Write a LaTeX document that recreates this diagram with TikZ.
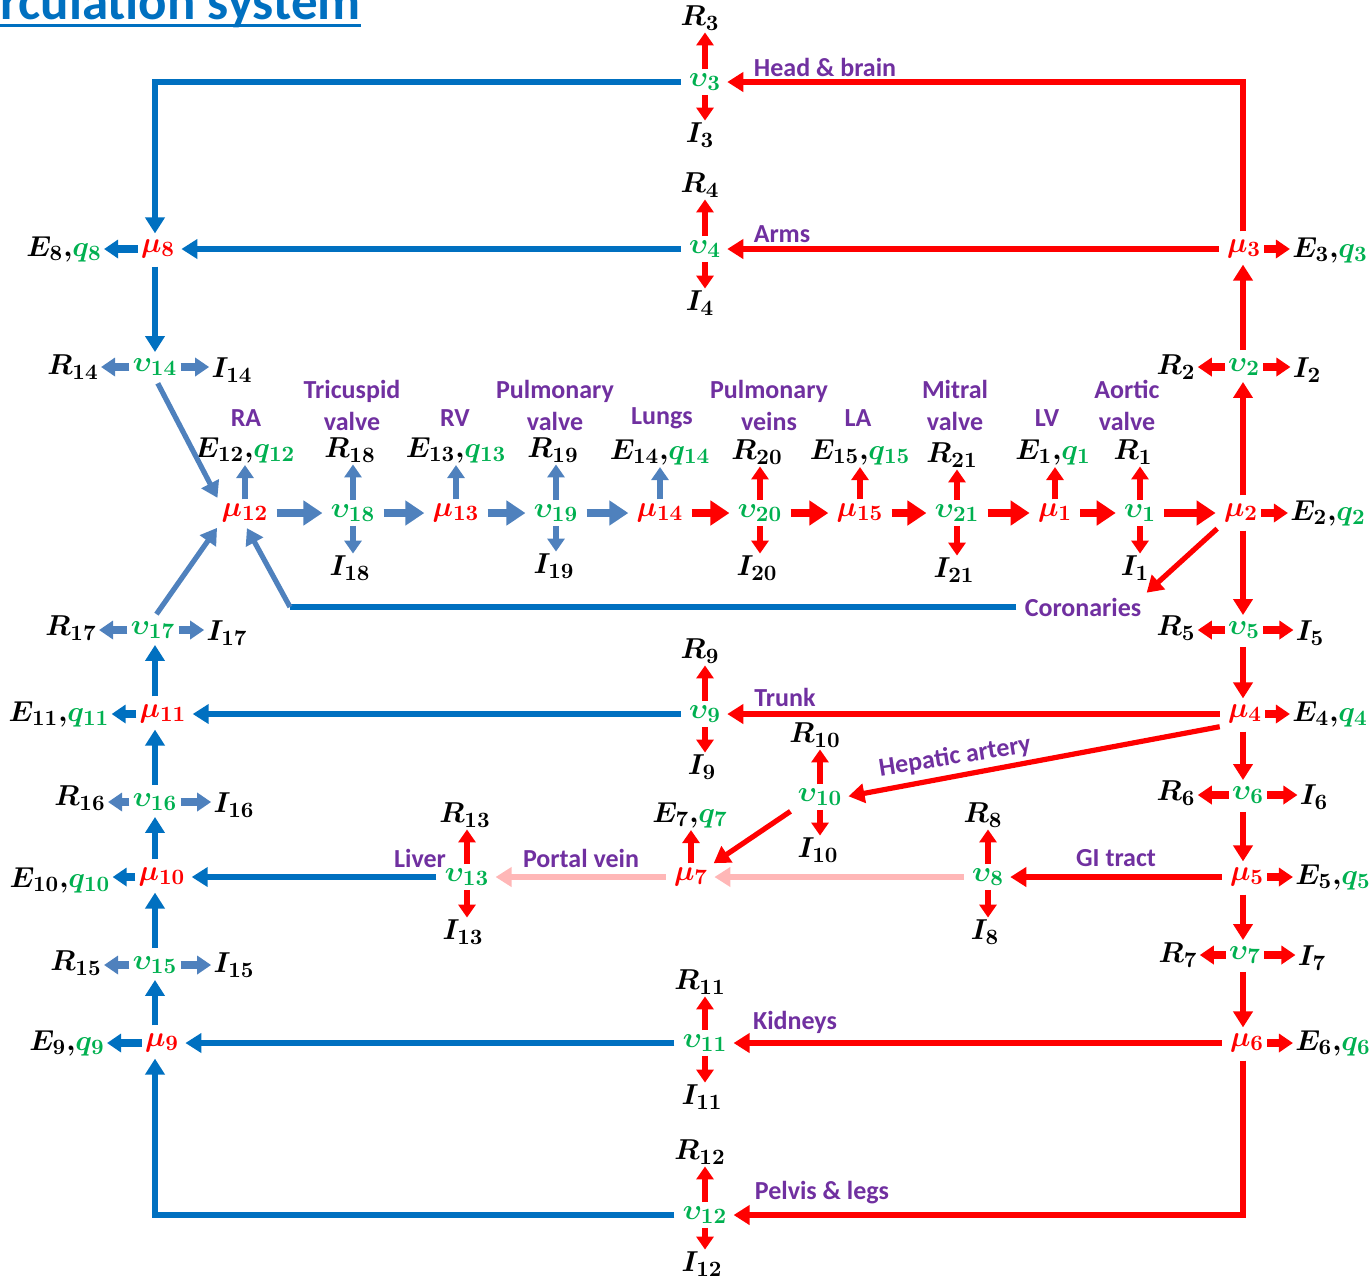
\documentclass[tikz,border=0pt]{standalone}
\usepackage{fontspec}
\setmainfont{Carlito}
\usetikzlibrary{arrows.meta}
\DeclareMathSizes{13.5}{13.5}{10.5}{8}
\definecolor{artRed}{HTML}{FF0000}
\definecolor{venBlue}{HTML}{0070C0}
\definecolor{heartBlue}{HTML}{4F81BD}
\definecolor{portalPink}{HTML}{FFB7B7}
\definecolor{lblPurple}{HTML}{7030A0}
\definecolor{qGreen}{HTML}{00B050}
\newcommand{\Eq}[1]{$E_{#1}{,}{\color{qGreen}q_{#1}}$}

\begin{document}
\begin{tikzpicture}[x=0.5pt, y=-0.5pt,
  var/.style={inner sep=1pt, font=\fontsize{13.5}{15}\selectfont\boldmath},
  pres/.style={var, text=artRed},
  vol/.style={var, text=qGreen},
  par/.style={var, text=black},
  lbl/.style={inner sep=1pt, text=lblPurple, align=center,
    font=\fontsize{13}{16}\selectfont\bfseries},
  flowR/.style={-{Triangle[length=8pt,width=9.5pt]}, artRed, line width=2.6pt,
    shorten <=3pt, shorten >=2pt},
  flowB/.style={flowR, venBlue},
  flowS/.style={flowR, heartBlue},
  flowP/.style={flowR, portalPink},
  lineB/.style={venBlue, line width=2.6pt, shorten <=3pt},
  bigR/.style={-{Triangle[length=9.5pt,width=12pt]}, artRed, line width=3.6pt,
    shorten <=3pt, shorten >=3pt},
  bigS/.style={bigR, heartBlue},
  vstubR/.style={-{Triangle[length=6.5pt,width=8.5pt]}, artRed, line width=2.6pt,
    shorten <=1pt},
  vstubS/.style={vstubR, heartBlue},
  hstubR/.style={-{Triangle[length=7pt,width=9pt]}, artRed, line width=3.6pt,
    shorten <=0.5pt},
  hstubB/.style={hstubR, venBlue},
  hstubS/.style={hstubR, heartBlue}]

\useasboundingbox (0,0) rectangle (1369,1281);
\clip (0,0) rectangle (1369,1281);

\node[anchor=base west, inner sep=0pt, text=venBlue,
  font=\fontsize{26.5}{30}\selectfont\bfseries] (title) at (0,19) {rculation system};
\draw[venBlue, line width=1.2pt] ([yshift=-3.2pt]title.base west)
  -- ([yshift=-3.2pt]title.base east);

% columns
\coordinate (colL) at (155,0);
\coordinate (colR) at (1243,0);
\coordinate (cbend) at (290,607);

% pressures and volumes
\foreach \n/\x/\y in {1/1055/513, 2/1241/513, 3/1244/249, 4/1245/714, 5/1247/877,
    6/1247/1043, 7/691/877, 8/158/249, 9/162/1043, 10/162/877, 11/163/714,
    12/245/513, 13/456/513, 14/660/513, 15/860/513}
  \node[pres] (mu\n) at (\x,\y) {$\mu_{\n}$};
\foreach \n/\x/\y in {1/1140/513, 2/1244/367, 3/705/82, 4/705/249, 5/1244/630,
    6/1248/795, 7/1245/955, 8/988/877, 9/705/714, 10/820/797, 11/705/1043,
    12/705/1215, 13/467/877, 14/155/367, 15/155/965, 16/155/802, 17/153/630,
    18/353/513, 19/556/513, 20/760/513, 21/957/513}
  \node[vol] (v\n) at (\x,\y) {$\upsilon_{\n}$};

% resistances
\foreach \n/\x/\y in {1/1133/452, 2/1176/367, 3/700/18, 4/700/185, 5/1176/628,
    6/1176/793, 7/1178/955, 8/983/815, 9/700/651, 10/815/735, 11/700/982,
    12/700/1152, 13/465/815, 14/73/367, 15/76/963, 16/80/798, 17/71/628,
    18/350/450, 19/553/450, 20/757/452, 21/952/455}
  \node[par] (R\n) at (\x,\y) {$R_{\n}$};
% inertances
\foreach \n/\x/\y in {1/1135/568, 2/1307/370, 3/700/135, 4/700/303, 5/1310/633,
    6/1314/797, 7/1312/958, 8/985/932, 9/702/767, 10/818/850, 11/702/1097,
    12/702/1264, 13/463/932, 14/232/370, 15/234/965, 16/234/805, 17/227/633,
    18/350/568, 19/554/566, 20/757/568, 21/954/570}
  \node[par] (I\n) at (\x,\y) {$I_{\n}$};
% elastances
\foreach \n/\x/\y in {1/1053/452, 2/1328/513, 3/1330/250, 4/1330/714, 5/1333/877,
    6/1333/1043, 7/690/815, 8/64/249, 9/67/1043, 10/60/880, 11/59/714,
    12/245/450, 13/456/450, 14/660/452, 15/860/452}
  \node[par] (E\n) at (\x,\y) {\Eq{\n}};

% compartment names
\node[lbl] (lHead)   at (825,67)   {Head \& brain};
\node[lbl] (lArms)   at (782,234)  {Arms};
\node[lbl] (lTrunk)  at (785,697)  {Trunk};
\node[lbl, rotate=9] (lHep) at (955,757) {Hepatic artery};
\node[lbl] (lPortal) at (581,858)  {Portal vein};
\node[lbl] (lLiver)  at (420,858)  {Liver};
\node[lbl] (lGI)     at (1116,858) {GI tract};
\node[lbl] (lKid)    at (795,1022) {Kidneys};
\node[lbl] (lPelvis) at (822,1193) {Pelvis \& legs};
\node[lbl] (cor)     at (1083,607) {Coronaries};
\node[lbl] (lRA)     at (246,418)  {RA};
\node[lbl] (lTri)    at (352,405)  {Tricuspid\\valve};
\node[lbl] (lRV)     at (455,418)  {RV};
\node[lbl] (lPv)     at (555,405)  {Pulmonary\\valve};
\node[lbl] (lLungs)  at (662,418)  {Lungs};
\node[lbl] (lPveins) at (769,405)  {Pulmonary\\veins};
\node[lbl] (lLA)     at (858,418)  {LA};
\node[lbl] (lMit)    at (955,405)  {Mitral\\valve};
\node[lbl] (lLV)     at (1047,418) {LV};
\node[lbl] (lAo)     at (1127,405) {Aortic\\valve};

% arteries
\draw[flowR] (mu3.north -| colR) |- (v3.east);
\draw[flowR] (mu3.west) -- (v4.east);
\draw[flowR] (v2.north -| colR) -- (mu3.south -| colR);
\draw[flowR] (mu2.north -| colR) -- (v2.south -| colR);
\draw[flowR] (mu2.south -| colR) -- (v5.north -| colR);
\draw[flowR] (v5.south -| colR) -- (mu4.north -| colR);
\draw[flowR] (mu4.south -| colR) -- (v6.north -| colR);
\draw[flowR] (v6.south -| colR) -- (mu5.north -| colR);
\draw[flowR] (mu5.south -| colR) -- (v7.north -| colR);
\draw[flowR] (v7.south -| colR) -- (mu6.north -| colR);
\draw[flowR] (mu2.south west) -- (cor.north east);
\draw[flowR] (mu4.west) -- (v9.east);
\draw[flowR] (mu4.south west) -- (v10.east);
\draw[flowR] (v10.south west) -- (mu7.north east);
\draw[flowR] (mu5.west) -- (v8.east);
\draw[flowR] (mu6.west) -- (v11.east);
\draw[flowR] (mu6.south -| colR) |- (v12.east);

% portal vein
\draw[flowP] (v8.west) -- (v8.west -| mu7.east);
\draw[flowP] (mu7.west) -- (mu7.west -| v13.east);

% veins
\draw[flowB] (v3.west) -| (mu8.north -| colL);
\draw[flowB] (v4.west) -- (mu8.east);
\draw[flowB] (mu8.south -| colL) -- (v14.north -| colL);
\draw[flowB] (v9.west) -- (mu11.east);
\draw[flowB] (v13.west) -- (v13.west -| mu10.east);
\draw[flowB] (v11.west) -- (mu9.east);
\draw[flowB] (v12.west) -| (mu9.south -| colL);
\draw[flowB] (mu9.north -| colL) -- (v15.south -| colL);
\draw[flowB] (v15.north -| colL) -- (mu10.south -| colL);
\draw[flowB] (mu10.north -| colL) -- (v16.south -| colL);
\draw[flowB] (v16.north -| colL) -- (mu11.south -| colL);
\draw[flowB] (mu11.north -| colL) -- (v17.south -| colL);
\draw[flowS] (v14.south) -- (mu12.north west);
\draw[flowS] (v17.north) -- (mu12.south west);
\draw[lineB] (cbend -| cor.west) -- (cbend);
\draw[flowS, shorten <=0pt] (cbend) -- (mu12.south);

% heart and lungs
\foreach \a/\b in {mu12/v18, v18/mu13, mu13/v19, v19/mu14}
  \draw[bigS] (\a.east) -- (\b.west);
\foreach \a/\b in {mu14/v20, v20/mu15, mu15/v21, v21/mu1, mu1/v1, v1/mu2}
  \draw[bigR] (\a.east) -- (\b.west);

% R and I stubs
\foreach \n in {1,3,4,8,9,10,11,12,13,20,21} {
  \draw[vstubR] (v\n.north) -- (v\n.north |- R\n.south);
  \draw[vstubR] (v\n.south) -- (v\n.south |- I\n.north);
}
\foreach \n in {18,19} {
  \draw[vstubS] (v\n.north) -- (v\n.north |- R\n.south);
  \draw[vstubS] (v\n.south) -- (v\n.south |- I\n.north);
}
\foreach \n in {2,5,6,7} {
  \draw[hstubR] (v\n.west) -- (v\n.west -| R\n.east);
  \draw[hstubR] (v\n.east) -- (v\n.east -| I\n.west);
}
\foreach \n in {14,15,16,17} {
  \draw[hstubS] (v\n.west) -- (v\n.west -| R\n.east);
  \draw[hstubS] (v\n.east) -- (v\n.east -| I\n.west);
}

% E stubs
\foreach \n in {2,3,4,5,6}
  \draw[hstubR] (mu\n.east) -- (mu\n.east -| E\n.west);
\foreach \n in {8,9,10,11}
  \draw[hstubB] (mu\n.west) -- (mu\n.west -| E\n.east);
\foreach \n in {1,7,15}
  \draw[vstubR] (mu\n.north) -- (mu\n.north |- E\n.south);
\foreach \n in {12,13,14}
  \draw[vstubS] (mu\n.north) -- (mu\n.north |- E\n.south);
\end{tikzpicture}
\end{document}
